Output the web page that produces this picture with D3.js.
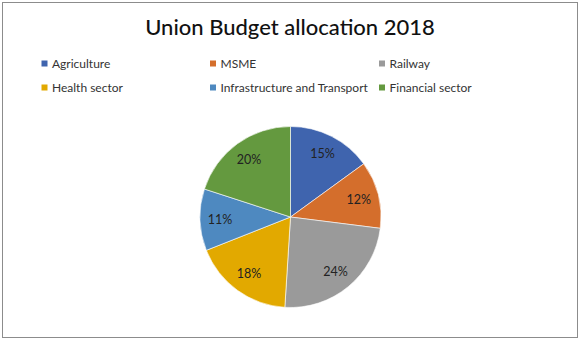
<!DOCTYPE html>
<html>
<head>
<meta charset="utf-8">
<script src="https://cdn.jsdelivr.net/npm/d3@7"></script>
<style>
  html, body { margin: 0; padding: 0; background: #fff; }
  svg { display: block; }
</style>
</head>
<body>
<svg id="chart" width="581" height="341"></svg>
<script>
const categories = ["Agriculture", "MSME", "Railway", "Health sector", "Infrastructure and Transport", "Financial sector"];
const values = [15, 12, 24, 18, 11, 20];
const colors = ["#3F64AE", "#D46E2C", "#9A9A9A", "#E2A900", "#4E89C0", "#64993F"];
const title = "Union Budget allocation 2018";

const svg = d3.select("#chart");
const W = 581, H = 341;
const font = "Lato, 'Open Sans', sans-serif";

svg.append("rect")
  .attr("x", 2.5).attr("y", 2.5)
  .attr("width", 575).attr("height", 335)
  .attr("fill", "#fff").attr("stroke", "#8c8c8c").attr("stroke-width", 1);

svg.append("text")
  .attr("x", 290).attr("y", 35)
  .attr("text-anchor", "middle")
  .attr("font-family", font)
  .attr("font-size", 22)
  .attr("font-weight", 500)
  .attr("fill", "#111")
  .text(title);

// Legend
const colX = d3.scaleOrdinal().domain([0, 1, 2]).range([41.5, 210, 379]);
const rowY = d3.scaleOrdinal().domain([0, 1]).range([63.5, 87.5]);
const legend = svg.append("g");
categories.forEach((c, i) => {
  const x = colX(i % 3), y = rowY(Math.floor(i / 3));
  legend.append("rect")
    .attr("x", x).attr("y", y - 3)
    .attr("width", 6).attr("height", 6)
    .attr("fill", colors[i]);
  legend.append("text")
    .attr("x", x + 10.5).attr("y", y)
    .attr("dy", "0.35em")
    .attr("font-family", font)
    .attr("font-size", 12)
    .attr("fill", "#333")
    .text(c);
});

// Pie
const cx = 290.5, cy = 217, r = 90.5;
const pie = d3.pie().sort(null).value(d => d)(values);
const arc = d3.arc().innerRadius(0).outerRadius(r);
const labelArc = d3.arc().innerRadius(r * 0.78).outerRadius(r * 0.78);
const g = svg.append("g").attr("transform", `translate(${cx},${cy})`);
g.selectAll("path").data(pie).join("path")
  .attr("d", arc)
  .attr("fill", (d, i) => colors[i])
  .attr("stroke", "#fff")
  .attr("stroke-width", 0.6);
g.selectAll("text").data(pie).join("text")
  .attr("transform", d => `translate(${labelArc.centroid(d)})`)
  .attr("text-anchor", "middle")
  .attr("dy", "0.35em")
  .attr("font-family", font)
  .attr("font-size", 12.5)
  .attr("fill", "#222")
  .text(d => d.data + "%");
</script>
</body>
</html>
